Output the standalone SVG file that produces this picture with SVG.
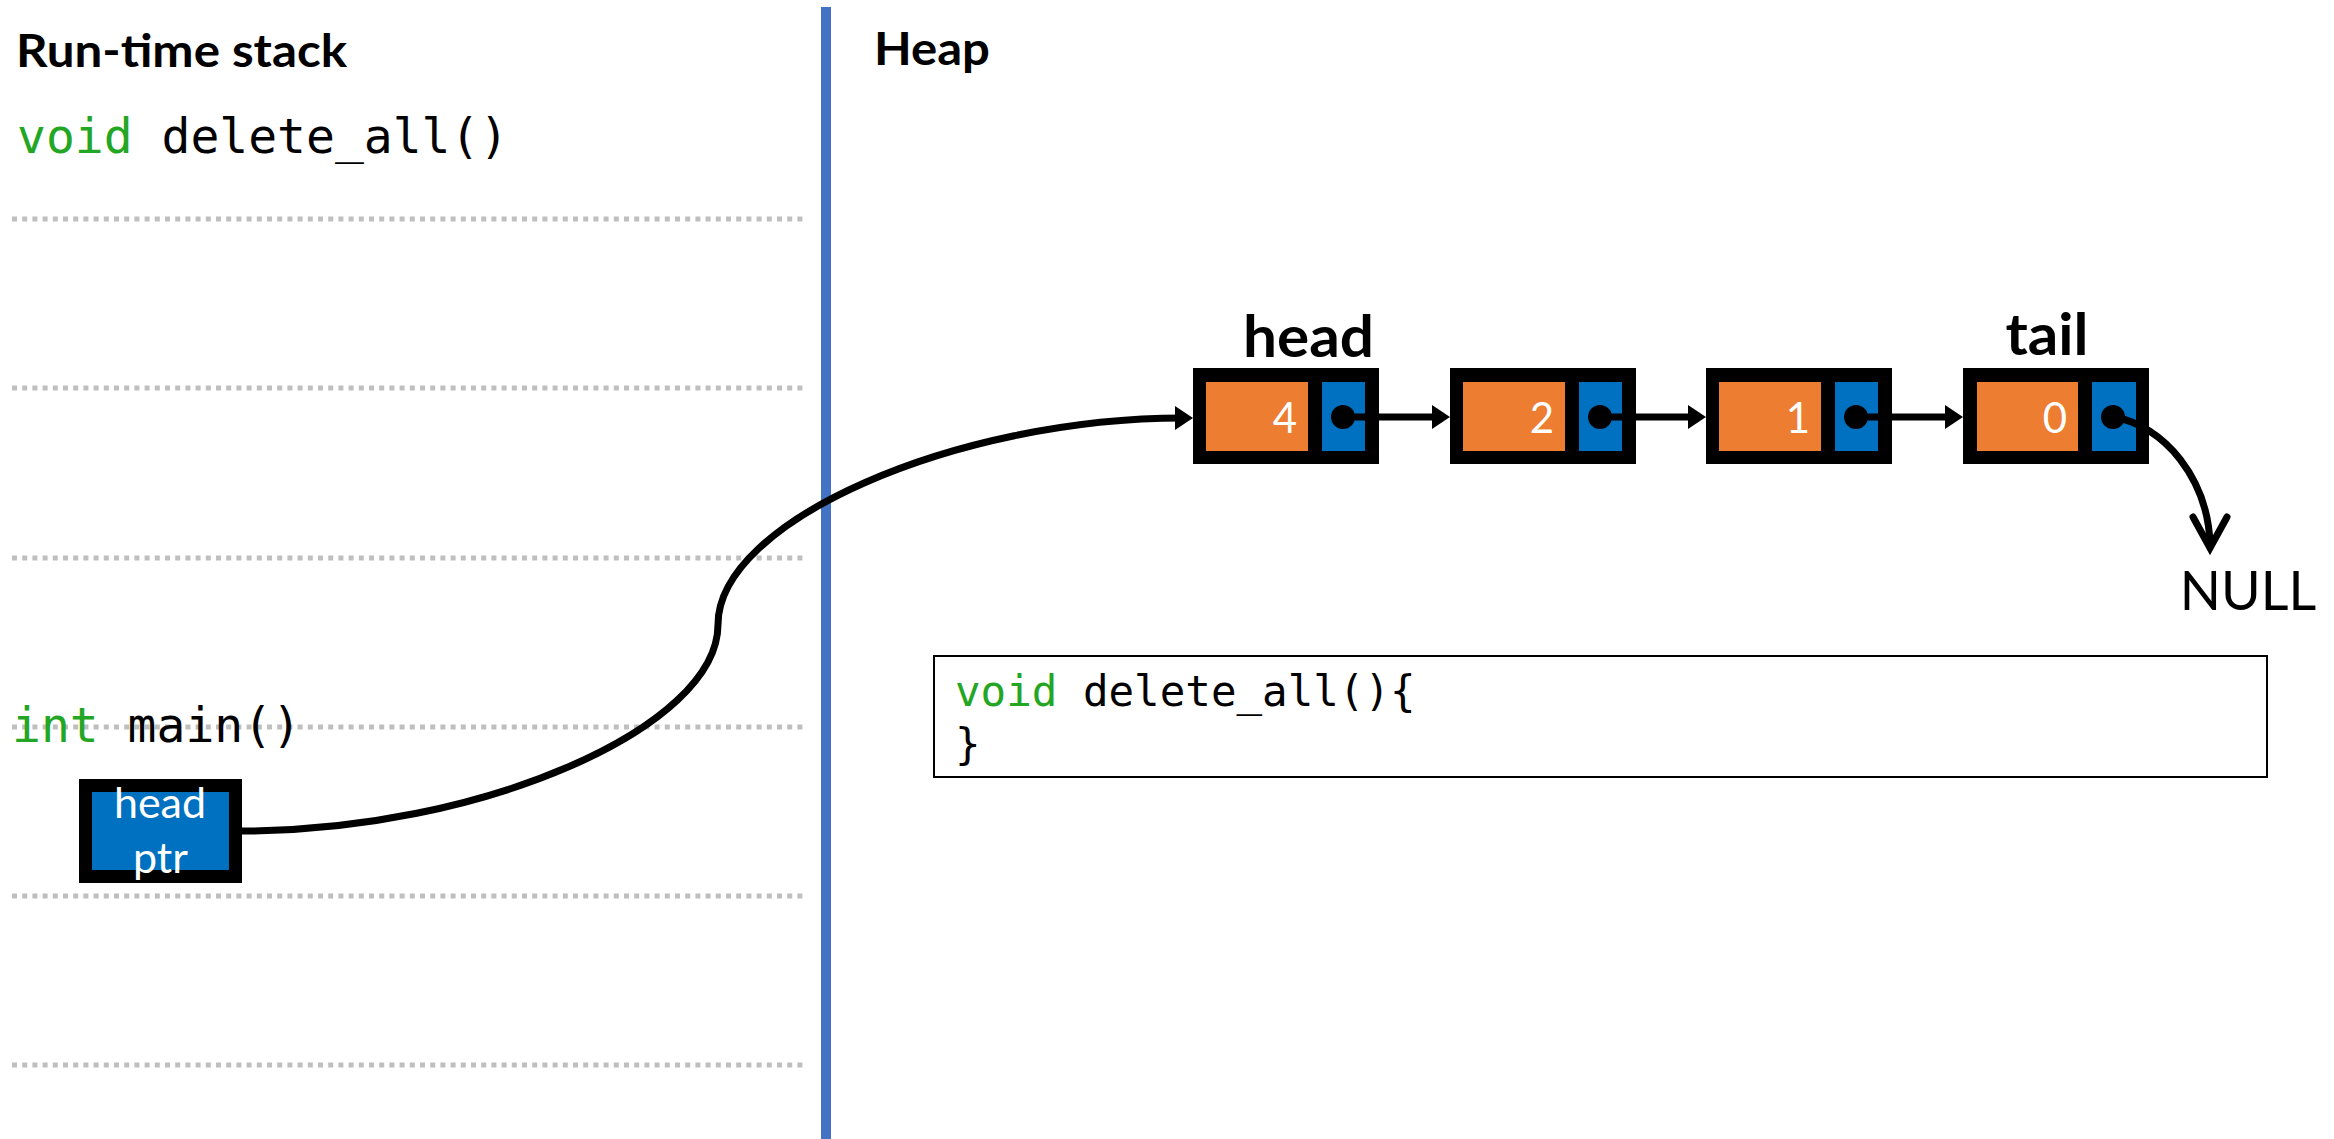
<svg xmlns="http://www.w3.org/2000/svg" width="2334" height="1139" viewBox="0 0 2334 1139">
<style>
.title{font-family:Lato,"Open Sans",sans-serif;font-weight:bold;font-size:46px;fill:#000}
.lbl{font-family:Lato,"Open Sans",sans-serif;font-weight:bold;font-size:57px;fill:#000;text-anchor:middle}
.mono{font-family:"DejaVu Sans Mono",monospace;fill:#000}
.kw{fill:#23A623}
.num{font-family:Lato,"Open Sans",sans-serif;font-size:42px;fill:#fff;text-anchor:end}
.ptrtxt{font-family:Lato,"Open Sans",sans-serif;font-size:43px;fill:#fff;text-anchor:middle}
.dots{stroke:#BFBFBF;stroke-width:5;stroke-dasharray:5 5.2;fill:none}
.frame{fill:#000}
.data{fill:#ED7D31}
.next{fill:#0070C0}
.conn{fill:none;stroke:#000;stroke-width:7}
</style>
<defs>
<marker id="tri" markerUnits="userSpaceOnUse" markerWidth="18" markerHeight="24" viewBox="0 0 18 24" refX="8" refY="12" orient="auto">
<path d="M0,0 L18,12 L0,24 Z" fill="#000"/>
</marker>
</defs>
<rect width="2334" height="1139" fill="#fff"/>
<g id="stack-lines">
<line class="dots" x1="12" y1="219" x2="806" y2="219"/>
<line class="dots" x1="12" y1="388" x2="806" y2="388"/>
<line class="dots" x1="12" y1="558" x2="806" y2="558"/>
<line class="dots" x1="12" y1="727" x2="806" y2="727"/>
<line class="dots" x1="12" y1="896" x2="806" y2="896"/>
<line class="dots" x1="12" y1="1065" x2="806" y2="1065"/>
</g>
<line id="divider" x1="826" y1="7" x2="826" y2="1139" stroke="#4472C4" stroke-width="10"/>
<text class="title" x="16" y="67" textLength="331" lengthAdjust="spacingAndGlyphs">Run-time stack</text>
<text class="title" x="874" y="65" textLength="116" lengthAdjust="spacingAndGlyphs">Heap</text>
<text class="mono" x="17" y="153" font-size="48"><tspan class="kw">void</tspan> delete_all()</text>
<text class="mono" x="12" y="742" font-size="48"><tspan class="kw">int</tspan> main()</text>
<g id="head-ptr">
<rect x="85.5" y="785.5" width="150" height="91" fill="#0070C0" stroke="#000" stroke-width="13"/>
<text class="ptrtxt" x="160" y="818">head</text>
<text class="ptrtxt" x="160.5" y="873">ptr</text>
</g>
<g id="node-4">
<rect class="frame" x="1193" y="368" width="186" height="96"/>
<rect class="data" x="1206" y="382" width="102" height="69"/>
<rect class="next" x="1322" y="382" width="43" height="69"/>
<text class="num" x="1297" y="433">4</text>
<circle cx="1343" cy="417" r="12" fill="#000"/>
</g>
<g id="node-2">
<rect class="frame" x="1450" y="368" width="186" height="96"/>
<rect class="data" x="1463" y="382" width="102" height="69"/>
<rect class="next" x="1579" y="382" width="43" height="69"/>
<text class="num" x="1554" y="433">2</text>
<circle cx="1600" cy="417" r="12" fill="#000"/>
</g>
<g id="node-1">
<rect class="frame" x="1706" y="368" width="186" height="96"/>
<rect class="data" x="1719" y="382" width="102" height="69"/>
<rect class="next" x="1835" y="382" width="43" height="69"/>
<text class="num" x="1810" y="433">1</text>
<circle cx="1856" cy="417" r="12" fill="#000"/>
</g>
<g id="node-0">
<rect class="frame" x="1963" y="368" width="186" height="96"/>
<rect class="data" x="1977" y="382" width="101" height="69"/>
<rect class="next" x="2092" y="382" width="44" height="69"/>
<text class="num" x="2067" y="433">0</text>
<circle cx="2113" cy="417" r="12" fill="#000"/>
</g>
<text class="lbl" x="1308.5" y="357" textLength="131" lengthAdjust="spacingAndGlyphs">head</text>
<text class="lbl" x="2047" y="355" textLength="83" lengthAdjust="spacingAndGlyphs">tail</text>
<text id="null" x="2248" y="610" font-family="Lato,'Open Sans',sans-serif" font-size="54" text-anchor="middle" fill="#000">NULL</text>
<g id="code-box">
<rect x="934" y="656" width="1333" height="121" fill="#fff" stroke="#000" stroke-width="2"/>
<text class="mono" x="955" y="706" font-size="42.5"><tspan class="kw">void</tspan> delete_all(){</text>
<text class="mono" x="955" y="759" font-size="42.5">}</text>
</g>
<g id="connectors">
<path class="conn" d="M242,831 C480,831 718,728 718,624.5 C718,521 955.5,418 1183,418" marker-end="url(#tri)"/>
<path class="conn" d="M1343,417 H1440" marker-end="url(#tri)"/>
<path class="conn" d="M1600,417 H1696" marker-end="url(#tri)"/>
<path class="conn" d="M1856,417 H1953" marker-end="url(#tri)"/>
<path class="conn" stroke-width="8" d="M2113,417 C2165,425 2208,480 2210,544"/>
<polyline class="conn" stroke-width="8" stroke-linecap="round" points="2193,517 2210,548 2227,517"/>
</g>
</svg>
